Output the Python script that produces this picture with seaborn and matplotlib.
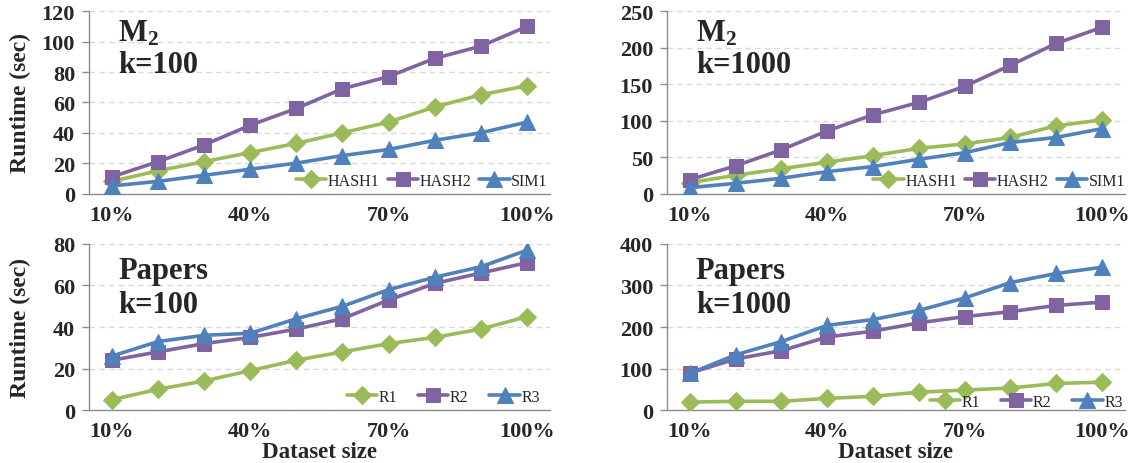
import numpy as np
import pandas as pd
import matplotlib
matplotlib.use("Agg")
import matplotlib.pyplot as plt
import seaborn as sns

# Dataset size categories (10% .. 100%)
sizes = ["10%", "20%", "30%", "40%", "50%", "60%", "70%", "80%", "90%", "100%"]
shown_ticks = ["10%", "40%", "70%", "100%"]

# M2, k=100
m2_k100_hash1 = [8, 15, 21, 27, 33, 40, 47, 57, 65, 71]
m2_k100_hash2 = [11, 21, 32, 45, 56, 69, 77, 89, 97, 110]
m2_k100_sim1 = [5, 8, 12, 16, 20, 25, 29, 35, 40, 47]

# M2, k=1000
m2_k1000_hash1 = [15, 25, 34, 43, 52, 62, 68, 77, 93, 101]
m2_k1000_hash2 = [19, 38, 60, 86, 108, 125, 147, 176, 206, 228]
m2_k1000_sim1 = [8, 14, 21, 30, 37, 47, 56, 70, 77, 89]

# Papers, k=100
papers_k100_r1 = [5, 10, 14, 19, 24, 28, 32, 35, 39, 45]
papers_k100_r2 = [24, 28, 32, 35, 39, 44, 53, 61, 66, 71]
papers_k100_r3 = [26, 33, 36, 37, 44, 50, 58, 64, 69, 77]

# Papers, k=1000
papers_k1000_r1 = [19, 21, 21, 28, 33, 43, 48, 53, 64, 67]
papers_k1000_r2 = [89, 123, 143, 176, 190, 210, 225, 237, 252, 260]
papers_k1000_r3 = [88, 133, 165, 204, 218, 240, 270, 307, 329, 344]

sns.set_theme(style="white")
plt.rcParams["font.family"] = ["Liberation Serif", "DejaVu Serif"]
plt.rcParams["mathtext.fontset"] = "custom"
plt.rcParams["mathtext.rm"] = "Liberation Serif:bold"
plt.rcParams["mathtext.it"] = "Liberation Serif:bold"
plt.rcParams["mathtext.bf"] = "Liberation Serif:bold"

GREEN = "#9BBB59"
PURPLE = "#8064A2"
BLUE = "#4F81BD"
AXIS_GRAY = "#8C8C8C"
GRID_GRAY = "#D9D9D9"

series_style = [(GREEN, "D", 9.5), (PURPLE, "s", 10.5), (BLUE, "^", 11)]

panels = [
    dict(pos=[0.0783, 0.5808, 0.4058, 0.3927], ymax=120, step=20,
         series=[("HASH1", m2_k100_hash1), ("HASH2", m2_k100_hash2), ("SIM1", m2_k100_sim1)],
         title=("M$_2$", "k=100"), title_y=(0.965, 0.79),
         ylabel=True, xlabel=False, leg=(0.995, 0.07), colsp=0.5),
    dict(pos=[0.5871, 0.5808, 0.4032, 0.3927], ymax=250, step=50,
         series=[("HASH1", m2_k1000_hash1), ("HASH2", m2_k1000_hash2), ("SIM1", m2_k1000_sim1)],
         title=("M$_2$", "k=1000"), title_y=(0.965, 0.79),
         ylabel=False, xlabel=False, leg=(1.0, 0.07), colsp=0.5),
    dict(pos=[0.0783, 0.1142, 0.4058, 0.3578], ymax=80, step=20,
         series=[("R1", papers_k100_r1), ("R2", papers_k100_r2), ("R3", papers_k100_r3)],
         title=("Papers", "k=100"), title_y=(0.925, 0.725),
         ylabel=True, xlabel=True, leg=(0.978, 0.08), colsp=1.3),
    dict(pos=[0.5871, 0.1142, 0.4032, 0.3578], ymax=400, step=100,
         series=[("R1", papers_k1000_r1), ("R2", papers_k1000_r2), ("R3", papers_k1000_r3)],
         title=("Papers", "k=1000"), title_y=(0.925, 0.725),
         ylabel=False, xlabel=True, leg=(0.995, 0.05), colsp=1.3),
]

fig = plt.figure(figsize=(11.36, 4.64), dpi=100)
fig.patch.set_facecolor("white")

x = np.arange(len(sizes))
for p in panels:
    ax = fig.add_axes(p["pos"])
    for (name, vals), (color, marker, ms) in zip(p["series"], series_style):
        df = pd.DataFrame({"size": x, "runtime": vals})
        sns.lineplot(data=df, x="size", y="runtime", ax=ax, color=color,
                     marker=marker, markersize=ms, markeredgecolor=color,
                     linewidth=2.6, label=name, sort=False, zorder=3)

    ax.set_xlim(-0.5, len(sizes) - 0.5)
    ax.set_ylim(0, p["ymax"])
    ax.set_yticks(np.arange(0, p["ymax"] + 1, p["step"]))
    ax.set_xticks([sizes.index(s) for s in shown_ticks])
    ax.set_xticklabels(shown_ticks)
    ax.yaxis.grid(True, color=GRID_GRAY, linestyle=(0, (4, 3)), linewidth=1.0)
    ax.xaxis.grid(False)
    ax.set_axisbelow(True)
    for side in ("top", "right"):
        ax.spines[side].set_visible(False)
    for side in ("left", "bottom"):
        ax.spines[side].set_color(AXIS_GRAY)
        ax.spines[side].set_linewidth(1.0)
    ax.tick_params(axis="y", length=5, width=1.0, color=AXIS_GRAY, pad=5,
                   labelsize=16, left=True)
    ax.tick_params(axis="x", length=0, pad=8, labelsize=16)
    for lab in ax.get_xticklabels() + ax.get_yticklabels():
        lab.set_fontweight("bold")

    if p["ylabel"]:
        ax.set_ylabel("Runtime (sec)", fontsize=17, fontweight="bold")
        ax.yaxis.set_label_coords(-0.125, 0.5)
    else:
        ax.set_ylabel("")
    if p["xlabel"]:
        ax.set_xlabel("Dataset size", fontsize=16.5, fontweight="bold")
        ax.xaxis.set_label_coords(0.5, -0.185)
    else:
        ax.set_xlabel("")

    ax.text(0.063, p["title_y"][0], p["title"][0], transform=ax.transAxes,
            fontsize=22, fontweight="bold", va="top", ha="left")
    ax.text(0.063, p["title_y"][1], p["title"][1], transform=ax.transAxes,
            fontsize=22, fontweight="bold", va="top", ha="left")

    ax.legend(loc="center right", bbox_to_anchor=p["leg"], ncol=3, frameon=False,
              fontsize=11.5, handlelength=1.9, handletextpad=0.1,
              columnspacing=p["colsp"], borderaxespad=0.0, borderpad=0.0)

fig.savefig("out.png", dpi=100, facecolor="white")
